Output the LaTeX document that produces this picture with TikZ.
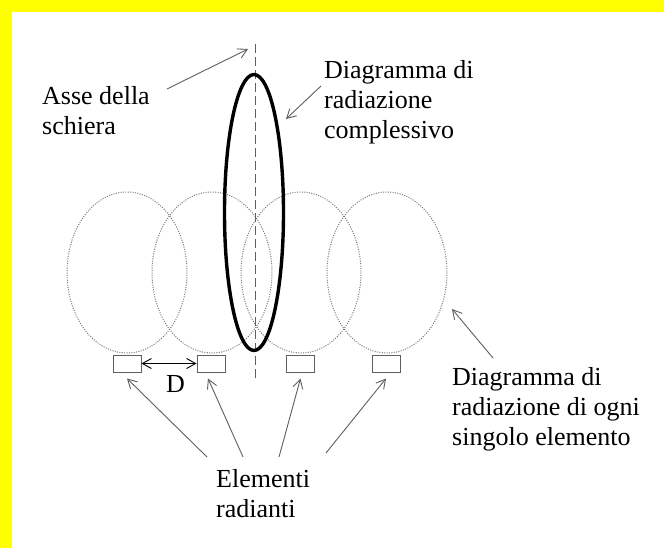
\documentclass[tikz,border=0pt]{standalone}
\usepackage{fontspec}
\setmainfont{Liberation Serif}
\usetikzlibrary{arrows.meta}
\definecolor{band}{RGB}{255,255,0}
\definecolor{linegray}{RGB}{95,95,95}
\definecolor{dotgray}{RGB}{120,120,120}
\tikzset{
  lbl/.style={inner sep=0pt, anchor=base west, align=left, font=\fontsize{26}{30}\selectfont},
  pointer/.style={draw=linegray, line width=0.9pt, -{Straight Barb[length=9pt,width=10pt]}},
  pattern1/.style={draw=dotgray, line width=1pt, dash pattern=on 1pt off 1.4pt},
  element/.style={draw=linegray, line width=1pt, minimum width=28pt, minimum height=17pt, inner sep=0pt},
  axisline/.style={draw=linegray, line width=1pt, dash pattern=on 9pt off 4pt},
}
\begin{document}
\begin{tikzpicture}[x=1pt,y=-1pt]
\useasboundingbox (0,0) rectangle (664,548);
\fill[white] (0,0) rectangle (664,548);
\fill[band] (0,0) rectangle (664,12);
\fill[band] (0,0) rectangle (12,548);

% individual element patterns
\draw[pattern1] (127,272.5) ellipse (60 and 80.5);
\draw[pattern1] (212,272.5) ellipse (60 and 80.5);
\draw[pattern1] (301,272.5) ellipse (60 and 80.5);
\draw[pattern1] (387,272.5) ellipse (60 and 80.5);

% array axis
\coordinate (axtop) at (255,44);
\coordinate (axbot) at (255,378);
\draw[axisline] (axtop) -- (axbot);

% overall pattern
\draw[line width=3.4pt] (254,212.5) ellipse (29.5 and 138);

% elements
\node[element] (r1) at (127,363.5) {};
\node[element] (r2) at (211,363.5) {};
\node[element] (r3) at (300.5,363.5) {};
\node[element] (r4) at (386,363.5) {};
\draw[line width=0.9pt, {Straight Barb[length=9pt,width=10pt]}-{Straight Barb[length=9pt,width=10pt]}] (r1.east) -- (r2.west);
\node[lbl] (dlab) at (166,392) {D};

% labels (anchor = baseline of the last line)
\node[lbl] (asse) at (42,135) {Asse della\\schiera};
\node[lbl] (compl) at (324,139) {Diagramma di\\radiazione\\complessivo};
\node[lbl] (sing) at (452,445) {Diagramma di\\radiazione di ogni\\singolo elemento};
\node[lbl] (elem) at (216,517) {Elementi\\radianti};

% pointers
\coordinate (a1) at (167,89);
\coordinate (a1t) at (248,49);
\draw[pointer] (a1) -- (a1t);
\coordinate (c1) at (321,86);
\coordinate (c1t) at (286,119);
\draw[pointer] (c1) -- (c1t);
\coordinate (s1) at (493,358);
\coordinate (s1t) at (452,309);
\draw[pointer] (s1) -- (s1t);

\coordinate (e1) at (207,457);
\coordinate (e2) at (243,457);
\coordinate (e3) at (279,457);
\coordinate (e4) at (326,453);
\coordinate (t1) at ([yshift=-6pt]r1.south);
\coordinate (t2) at ([xshift=-3pt,yshift=-6pt]r2.south);
\coordinate (t3) at ([yshift=-6pt]r3.south);
\coordinate (t4) at ([yshift=-6pt]r4.south);
\draw[pointer] (e1) -- (t1);
\draw[pointer] (e2) -- (t2);
\draw[pointer] (e3) -- (t3);
\draw[pointer] (e4) -- (t4);
\end{tikzpicture}
\end{document}
